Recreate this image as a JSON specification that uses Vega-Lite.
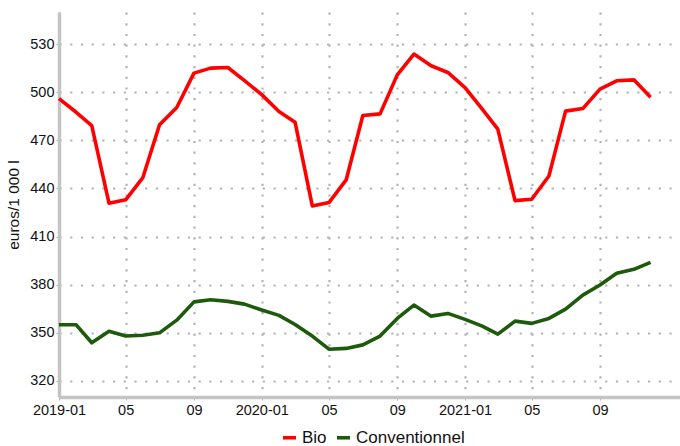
{
  "$schema": "https://vega.github.io/schema/vega-lite/v6.json",
  "autosize": "none",
  "width": 621,
  "height": 385,
  "padding": {"left": 59, "top": 12, "right": 0, "bottom": 49},
  "background": "white",
  "config": {
    "view": {"stroke": null},
    "font": "Liberation Sans",
    "axis": {
      "domainColor": "#c4c4c4",
      "domainWidth": 3.5,
      "tickColor": "#b0b0b0",
      "tickSize": 3,
      "tickWidth": 1,
      "gridColor": "#b3b3b3",
      "gridWidth": 2.2,
      "gridDash": [2.2, 8.5],
      "labelFont": "Liberation Sans",
      "labelFontSize": 14.5,
      "labelColor": "#111111",
      "titleFont": "Liberation Sans",
      "titleFontWeight": "normal",
      "titleColor": "#111111"
    }
  },
  "data": {
    "values": [
      {"date": "2019-01-01", "serie": "Bio", "prix": 496},
      {"date": "2019-02-01", "serie": "Bio", "prix": 487.5},
      {"date": "2019-03-01", "serie": "Bio", "prix": 479.2},
      {"date": "2019-04-01", "serie": "Bio", "prix": 430.8},
      {"date": "2019-05-01", "serie": "Bio", "prix": 432.9},
      {"date": "2019-06-01", "serie": "Bio", "prix": 446.8},
      {"date": "2019-07-01", "serie": "Bio", "prix": 479.7},
      {"date": "2019-08-01", "serie": "Bio", "prix": 490.5},
      {"date": "2019-09-01", "serie": "Bio", "prix": 511.9},
      {"date": "2019-10-01", "serie": "Bio", "prix": 515},
      {"date": "2019-11-01", "serie": "Bio", "prix": 515.4},
      {"date": "2019-12-01", "serie": "Bio", "prix": 507.2},
      {"date": "2020-01-01", "serie": "Bio", "prix": 498.5},
      {"date": "2020-02-01", "serie": "Bio", "prix": 488},
      {"date": "2020-03-01", "serie": "Bio", "prix": 481.3},
      {"date": "2020-04-01", "serie": "Bio", "prix": 429.1},
      {"date": "2020-05-01", "serie": "Bio", "prix": 431.2},
      {"date": "2020-06-01", "serie": "Bio", "prix": 445.3},
      {"date": "2020-07-01", "serie": "Bio", "prix": 485.5},
      {"date": "2020-08-01", "serie": "Bio", "prix": 486.5},
      {"date": "2020-09-01", "serie": "Bio", "prix": 510.8},
      {"date": "2020-10-01", "serie": "Bio", "prix": 523.8},
      {"date": "2020-11-01", "serie": "Bio", "prix": 516.5},
      {"date": "2020-12-01", "serie": "Bio", "prix": 512.3},
      {"date": "2021-01-01", "serie": "Bio", "prix": 502.9},
      {"date": "2021-02-01", "serie": "Bio", "prix": 489.4},
      {"date": "2021-03-01", "serie": "Bio", "prix": 477},
      {"date": "2021-04-01", "serie": "Bio", "prix": 432.4},
      {"date": "2021-05-01", "serie": "Bio", "prix": 433.3},
      {"date": "2021-06-01", "serie": "Bio", "prix": 447.8},
      {"date": "2021-07-01", "serie": "Bio", "prix": 488.2},
      {"date": "2021-08-01", "serie": "Bio", "prix": 489.8},
      {"date": "2021-09-01", "serie": "Bio", "prix": 501.9},
      {"date": "2021-10-01", "serie": "Bio", "prix": 507.1},
      {"date": "2021-11-01", "serie": "Bio", "prix": 507.7},
      {"date": "2021-12-01", "serie": "Bio", "prix": 496.9},
      {"date": "2019-01-01", "serie": "Conventionnel", "prix": 355},
      {"date": "2019-02-01", "serie": "Conventionnel", "prix": 355},
      {"date": "2019-03-01", "serie": "Conventionnel", "prix": 343.8},
      {"date": "2019-04-01", "serie": "Conventionnel", "prix": 351},
      {"date": "2019-05-01", "serie": "Conventionnel", "prix": 348},
      {"date": "2019-06-01", "serie": "Conventionnel", "prix": 348.5},
      {"date": "2019-07-01", "serie": "Conventionnel", "prix": 350},
      {"date": "2019-08-01", "serie": "Conventionnel", "prix": 357.9},
      {"date": "2019-09-01", "serie": "Conventionnel", "prix": 369.3},
      {"date": "2019-10-01", "serie": "Conventionnel", "prix": 370.6},
      {"date": "2019-11-01", "serie": "Conventionnel", "prix": 369.6},
      {"date": "2019-12-01", "serie": "Conventionnel", "prix": 367.9},
      {"date": "2020-01-01", "serie": "Conventionnel", "prix": 364.2},
      {"date": "2020-02-01", "serie": "Conventionnel", "prix": 360.9},
      {"date": "2020-03-01", "serie": "Conventionnel", "prix": 355.2},
      {"date": "2020-04-01", "serie": "Conventionnel", "prix": 348},
      {"date": "2020-05-01", "serie": "Conventionnel", "prix": 339.8},
      {"date": "2020-06-01", "serie": "Conventionnel", "prix": 340.3},
      {"date": "2020-07-01", "serie": "Conventionnel", "prix": 342.5},
      {"date": "2020-08-01", "serie": "Conventionnel", "prix": 348},
      {"date": "2020-09-01", "serie": "Conventionnel", "prix": 359},
      {"date": "2020-10-01", "serie": "Conventionnel", "prix": 367.3},
      {"date": "2020-11-01", "serie": "Conventionnel", "prix": 360.4},
      {"date": "2020-12-01", "serie": "Conventionnel", "prix": 362.1},
      {"date": "2021-01-01", "serie": "Conventionnel", "prix": 358.4},
      {"date": "2021-02-01", "serie": "Conventionnel", "prix": 354.2},
      {"date": "2021-03-01", "serie": "Conventionnel", "prix": 349.2},
      {"date": "2021-04-01", "serie": "Conventionnel", "prix": 357.3},
      {"date": "2021-05-01", "serie": "Conventionnel", "prix": 355.9},
      {"date": "2021-06-01", "serie": "Conventionnel", "prix": 359},
      {"date": "2021-07-01", "serie": "Conventionnel", "prix": 364.8},
      {"date": "2021-08-01", "serie": "Conventionnel", "prix": 373.5},
      {"date": "2021-09-01", "serie": "Conventionnel", "prix": 379.8},
      {"date": "2021-10-01", "serie": "Conventionnel", "prix": 387.1},
      {"date": "2021-11-01", "serie": "Conventionnel", "prix": 389.6},
      {"date": "2021-12-01", "serie": "Conventionnel", "prix": 393.9}
    ]
  },
  "mark": {"type": "line", "strokeWidth": 3.6, "strokeJoin": "round", "strokeCap": "butt"},
  "encoding": {
    "x": {
      "field": "date",
      "type": "temporal",
      "scale": {
        "type": "utc",
        "domain": [
          {"year": 2019, "month": 1, "date": 1, "utc": true},
          {"year": 2022, "month": 1, "date": 23, "utc": true}
        ]
      },
      "axis": {
        "title": null,
        "values": [
          {"year": 2019, "month": 1, "date": 1, "utc": true},
          {"year": 2019, "month": 5, "date": 1, "utc": true},
          {"year": 2019, "month": 9, "date": 1, "utc": true},
          {"year": 2020, "month": 1, "date": 1, "utc": true},
          {"year": 2020, "month": 5, "date": 1, "utc": true},
          {"year": 2020, "month": 9, "date": 1, "utc": true},
          {"year": 2021, "month": 1, "date": 1, "utc": true},
          {"year": 2021, "month": 5, "date": 1, "utc": true},
          {"year": 2021, "month": 9, "date": 1, "utc": true}
        ],
        "labelExpr": "utcmonth(datum.value) == 0 ? utcFormat(datum.value, '%Y-%m') : utcFormat(datum.value, '%m')",
        "labelPadding": 3,
        "labelFlush": false,
        "labelOverlap": false,
        "grid": true
      }
    },
    "y": {
      "field": "prix",
      "type": "quantitative",
      "scale": {"domain": [310, 550], "nice": false, "zero": false},
      "axis": {
        "title": "euros/1 000 l",
        "titleFontSize": 15.5,
        "titlePadding": 8,
        "values": [320, 350, 380, 410, 440, 470, 500, 530],
        "labelPadding": 2,
        "grid": true
      }
    },
    "color": {
      "field": "serie",
      "type": "nominal",
      "scale": {"domain": ["Bio", "Conventionnel"], "range": ["#ff0000", "#1e5a0c"]},
      "legend": {
        "title": null,
        "orient": "none",
        "direction": "horizontal",
        "legendX": 222,
        "legendY": 417,
        "symbolType": "stroke",
        "symbolSize": 170,
        "symbolStrokeWidth": 3.6,
        "labelFontSize": 17,
        "labelFont": "Liberation Sans",
        "labelColor": "#111111",
        "labelOffset": 4,
        "columnPadding": 2,
        "padding": 0
      }
    }
  }
}
